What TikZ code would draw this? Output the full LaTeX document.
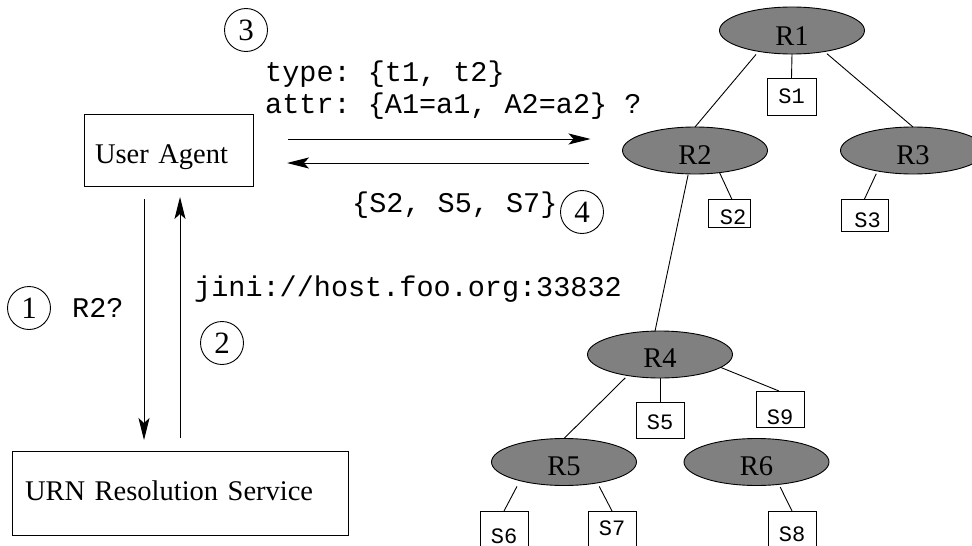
\documentclass[tikz,border=0pt]{standalone}
\usepackage{fontspec}
\setmainfont{Liberation Serif}
\setmonofont{Liberation Mono}
\usetikzlibrary{arrows.meta,shapes.geometric}
\definecolor{ellgray}{RGB}{128,128,128}
\begin{document}
\begin{tikzpicture}[x=1pt,y=-1pt,
  big/.style={font=\fontsize{28.5}{34}\selectfont},
  mono/.style={font=\fontsize{28.5}{34}\selectfont\ttfamily, inner sep=0pt, anchor=base west},
  rnode/.style={ellipse, draw, fill=ellgray, line width=0.9pt, minimum width=145pt, minimum height=47pt, inner sep=0pt, outer sep=0pt, font=\fontsize{28.5}{34}\selectfont, text depth=0pt, text height=27pt},
  sbox/.style={draw, line width=0.9pt, inner sep=0pt, outer sep=0pt, font=\fontsize{22}{26}\selectfont\ttfamily, text depth=0pt},
  num/.style={circle, draw, line width=0.9pt, minimum size=43pt, inner sep=0pt, font=\fontsize{31}{36}\selectfont},
  boxnode/.style={draw, line width=0.9pt, inner sep=0pt, outer sep=0pt, align=left, text depth=0pt, big},
  edge/.style={line width=0.9pt},
  arr/.style={line width=1pt, -{Stealth[length=22pt,width=11pt,inset=5pt]}}
]
\useasboundingbox (0,0) rectangle (972,546);
\clip (0,0) rectangle (972,546);

% tree nodes
\node[rnode, text height=30pt] (r1) at (792,30.5) {R1};
\node[rnode] (r2) at (695,150.5) {R2};
\node[rnode] (r3) at (913,150.5) {R3};
\node[rnode, text height=25pt] (r4) at (660,354.5) {R4};
\node[rnode] (r5) at (564,462) {R5};
\node[rnode] (r6) at (756.5,462) {R6};

\node[sbox, minimum width=49pt, minimum height=37pt, text height=14pt] (s1) at (791.5,96.5) {S1};
\node[sbox, minimum width=42pt, minimum height=28pt, text height=22pt] (s2) at (729,213.5) {\hspace*{8pt}S2};
\node[sbox, minimum width=47pt, minimum height=32pt, text height=24pt] (s3) at (864.5,215) {\hspace*{6pt}S3};
\node[sbox, minimum width=48pt, minimum height=36pt, text height=19pt] (s5) at (660,420) {S5};
\node[sbox, minimum width=48pt, minimum height=36pt, text height=31pt] (s9) at (780,409) {S9};
\node[sbox, minimum width=48pt, minimum height=60pt, text height=4pt] (s6) at (504,541) {S6};
\node[sbox, minimum width=48pt, minimum height=60pt, text height=0pt, text depth=12pt] (s7) at (612,541) {S7};
\node[sbox, minimum width=48pt, minimum height=60pt, text height=0pt] (s8) at (792,541) {S8};

% tree edges
\draw[edge, shorten <=4pt] (r1.212) -- (r2.north);
\draw[edge, shorten <=3.4pt] (r1.327) -- (r3.north);
\draw[edge] (r1.south) -- (s1.north);
\draw[edge] (r2.318) -- ([xshift=3pt]s2.north);
\draw[edge, shorten <=3pt] (r3.210) -- (s3.north);
\draw[edge, shorten <=1pt] (r2.254) -- (r4.102);
\draw[edge] (r4.south) -- (s5.north);
\draw[edge] (r4.348) -- ([xshift=-1pt]s9.north);
\draw[edge, shorten <=3.4pt] (r4.213) -- (r5.north);
\draw[edge, shorten <=6.5pt] (r5.203) -- (s6.north);
\draw[edge, shorten <=4pt] (r5.328) -- (s7.north);
\draw[edge, shorten <=3pt] (r6.315) -- (s8.north);

% left side
\node[boxnode, minimum width=169pt, minimum height=72pt, text width=147pt, text height=27pt] (ua) at (168.5,150) {User Agent};
\node[boxnode, minimum width=336pt, minimum height=84pt, text width=310pt, text height=15pt] (urn) at (180,493) {URN Resolution Service};

\node[num] (c1) at (29,308) {1};
\node[num] (c2) at (222,343) {2};
\node[num] (c3) at (246,30) {3};
\node[num] (c4) at (582,212) {4};

\node[mono] (t1) at (265,81) {type: \{t1, t2\}};
\node[mono] (t2) at (265,113) {attr: \{A1=a1, A2=a2\} ?};
\node[mono] (t3) at (352,212) {\{S2, S5, S7\}};
\node[mono] (t4) at (194,296) {jini://host.foo.org:33832};
\node[mono] (t5) at (72,317) {R2?};

% arrows
\draw[arr, shorten <=35pt, shorten >=32pt] ([yshift=11pt]ua.east) -- ([yshift=11pt]ua.east -| r2.west);
\draw[arr, shorten <=34pt, shorten >=34pt] ([yshift=-13pt]ua.east -| r2.west) -- ([yshift=-13pt]ua.east);
\draw[arr, shorten <=13pt, shorten >=11pt] ([xshift=-24.5pt]ua.south) -- ([xshift=-24.5pt]ua.south |- urn.north);
\draw[arr, shorten <=13pt, shorten >=11pt] (urn.north) -- (urn.north |- ua.south);
\end{tikzpicture}
\end{document}
